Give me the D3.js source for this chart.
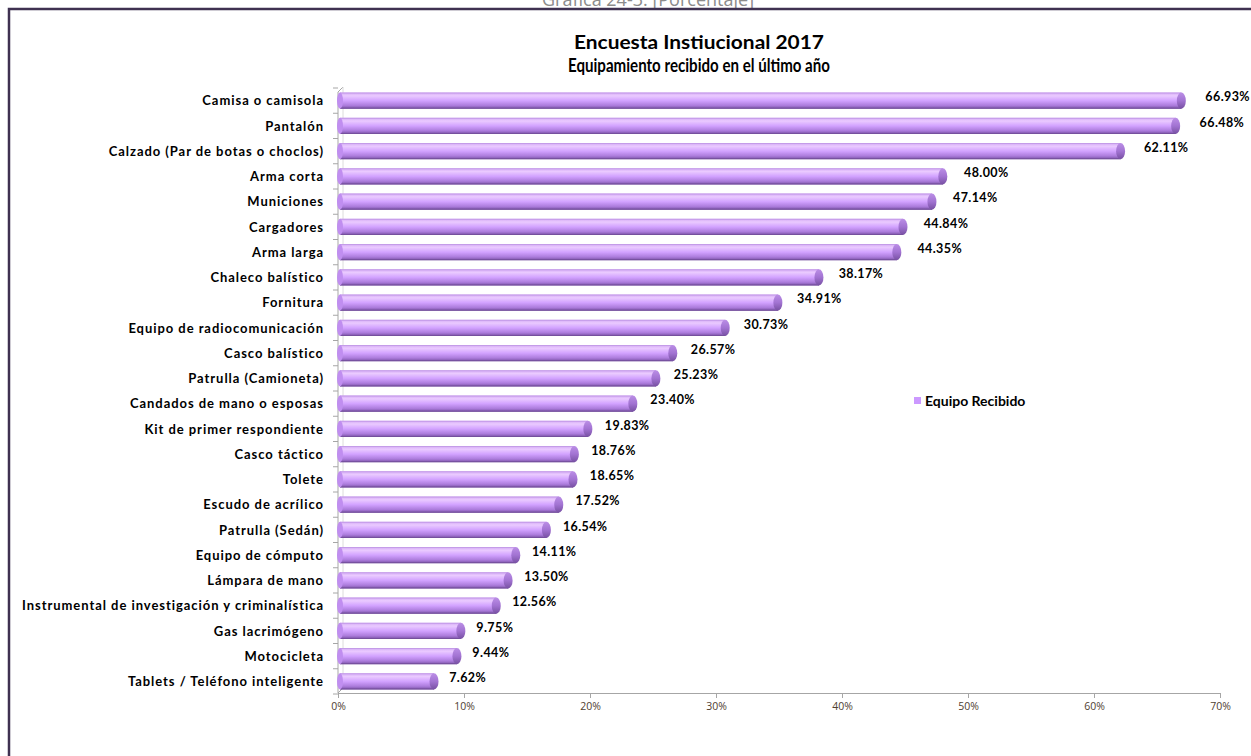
<!DOCTYPE html>
<html><head><meta charset="utf-8">
<script src="https://cdn.jsdelivr.net/npm/d3@7"></script>
<style>
body{margin:0;background:#fff;}
svg{display:block;}
</style></head>
<body>
<svg id="chart" width="1251" height="756"></svg>
<script>
const categories = [
 "Camisa o camisola","Pantalón","Calzado (Par de botas o choclos)","Arma corta","Municiones",
 "Cargadores","Arma larga","Chaleco balístico","Fornitura","Equipo de radiocomunicación",
 "Casco balístico","Patrulla (Camioneta)","Candados de mano o esposas","Kit de primer respondiente",
 "Casco táctico","Tolete","Escudo de acrílico","Patrulla (Sedán)","Equipo de cómputo",
 "Lámpara de mano","Instrumental de investigación y criminalística","Gas lacrimógeno",
 "Motocicleta","Tablets / Teléfono inteligente"];
const values = [66.93,66.48,62.11,48.00,47.14,44.84,44.35,38.17,34.91,30.73,26.57,25.23,23.40,
 19.83,18.76,18.65,17.52,16.54,14.11,13.50,12.56,9.75,9.44,7.62];
const xTicks = [0,10,20,30,40,50,60,70];
const seriesName = "Equipo Recibido";
const titleLines = ["Encuesta Instiucional 2017","Equipamiento recibido en el último año"];
const topCaption = "Gráfica 24-3: [Porcentaje]";

const svg = d3.select("#chart");
const defs = svg.append("defs");
const grad = defs.append("linearGradient").attr("id","barGrad").attr("x1",0).attr("y1",0).attr("x2",0).attr("y2",1);
[[0,"#d4aaf4"],[0.2,"#eacaff"],[0.5,"#d2a2ff"],[0.8,"#ac7cdc"],[1,"#7a52a5"]].forEach(s=>
  grad.append("stop").attr("offset",s[0]).attr("stop-color",s[1]));
const capGrad = defs.append("linearGradient").attr("id","capGrad").attr("x1",0).attr("y1",0).attr("x2",0).attr("y2",1);
[[0,"#bb8ee6"],[0.5,"#a273d2"],[1,"#7750a2"]].forEach(s=>
  capGrad.append("stop").attr("offset",s[0]).attr("stop-color",s[1]));

// top caption (cut by the page edge, as in the reference)
svg.append("text").attr("x",648).attr("y",6).attr("text-anchor","middle")
  .attr("font-family","Open Sans, sans-serif").attr("font-size",18).attr("fill","#8c8c8c").text(topCaption);

// frame
svg.append("rect").attr("x",9).attr("y",9).attr("width",1260).attr("height",770)
  .attr("fill","#fff").attr("stroke","#3f3151").attr("stroke-width",2.5);

// title
titleLines.forEach((t,i)=>{
  svg.append("text").attr("x",699).attr("y",49+i*23).attr("text-anchor","middle")
   .attr("font-family","Lato, sans-serif").attr("font-weight","bold").attr("font-size",18)
   .attr("textLength", i===0?250:262).attr("lengthAdjust","spacingAndGlyphs").text(t);
});

const x = d3.scaleLinear().domain([0,70]).range([338,1220]);
const y = d3.scaleBand().domain(categories).range([88,694]).paddingInner(0.36).paddingOuter(0.18);

// axes frame
const g = svg.append("g");
const axisColor = "#a6a6a6";
g.append("line").attr("x1",338).attr("x2",338).attr("y1",92).attr("y2",693).attr("stroke",axisColor);
g.append("line").attr("x1",338).attr("x2",343).attr("y1",92).attr("y2",87).attr("stroke",axisColor);
g.append("line").attr("x1",338).attr("x2",343).attr("y1",693).attr("y2",688).attr("stroke",axisColor);
g.append("line").attr("x1",343).attr("x2",343).attr("y1",87).attr("y2",688).attr("stroke","#dcdcdc");
// category ticks at band boundaries
const bounds = categories.map(c=>y(c)-y.step()*y.paddingInner()/2).concat([y(categories[categories.length-1])+y.bandwidth()+y.step()*y.paddingInner()/2]);
g.selectAll("line.ct").data(bounds).join("line").attr("class","ct")
  .attr("x1",333).attr("x2",338).attr("y1",d=>d).attr("y2",d=>d).attr("stroke",axisColor);

// x axis
const xAxis = d3.axisBottom(x).tickValues(xTicks).tickFormat(d=>d+"%").tickSize(5).tickSizeOuter(0);
const xa = svg.append("g").attr("transform","translate(0,693)").call(xAxis);
xa.select(".domain").attr("stroke",axisColor);
xa.selectAll(".tick line").attr("stroke",axisColor);
xa.selectAll(".tick text").attr("font-family","Open Sans, sans-serif").attr("font-size",10.5)
  .attr("fill","#4f4030").attr("dy","0.85em");

// category labels
svg.append("g").selectAll("text").data(categories).join("text")
  .attr("x",324).attr("y",d=>y(d)+y.bandwidth()/2).attr("dy","0.36em").attr("text-anchor","end")
  .attr("font-family","Lato, sans-serif").attr("font-weight","bold").attr("font-size",13)
  .attr("letter-spacing","0.95").attr("fill","#000").text(d=>d);

// bars
const bw = y.bandwidth();
const bars = svg.append("g").selectAll("g").data(categories).join("g");
bars.append("rect").attr("x",x(0)+2).attr("y",d=>y(d)).attr("width",(d,i)=>x(values[i])-x(0)-2)
  .attr("height",bw).attr("fill","url(#barGrad)");
bars.append("line").attr("x1",x(0)+2).attr("x2",(d,i)=>x(values[i])).attr("y1",d=>y(d)+bw-0.5).attr("y2",d=>y(d)+bw-0.5)
  .attr("stroke","#74509c").attr("stroke-width",1);
bars.append("line").attr("x1",x(0)+2).attr("x2",(d,i)=>x(values[i])).attr("y1",d=>y(d)+0.5).attr("y2",d=>y(d)+0.5)
  .attr("stroke","#c49be8").attr("stroke-width",1);
bars.append("ellipse").attr("cx",(d,i)=>x(values[i])).attr("cy",d=>y(d)+bw/2)
  .attr("rx",4.5).attr("ry",bw/2).attr("fill","url(#capGrad)");
bars.append("ellipse").attr("cx",x(0)+2).attr("cy",d=>y(d)+bw/2)
  .attr("rx",3).attr("ry",bw/2).attr("fill","#c08ef0");

// value labels
svg.append("g").selectAll("text").data(categories).join("text")
  .attr("x",(d,i)=>x(values[i])+14+values[i]*0.15).attr("y",d=>y(d)+bw/2).attr("dy","0.05em")
  .attr("font-family","Lato, sans-serif").attr("font-weight","bold").attr("font-size",12.5)
  .attr("letter-spacing","0.4").attr("fill","#000").text((d,i)=>values[i].toFixed(2)+"%");

// legend
svg.append("rect").attr("x",914).attr("y",397).attr("width",7).attr("height",7).attr("fill","#cc99ff");
svg.append("text").attr("x",925).attr("y",406).attr("font-family","Lato, sans-serif").attr("font-weight","bold")
  .attr("font-size",14).attr("fill","#000").text(seriesName);
</script>
</body></html>
